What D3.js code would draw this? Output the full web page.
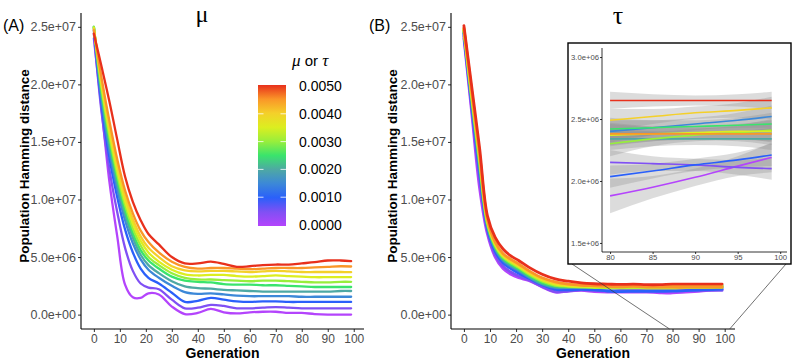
<!DOCTYPE html>
<html><head><meta charset="utf-8">
<script src="https://cdn.jsdelivr.net/npm/d3@7"></script>
<style>body{margin:0;background:#fff} svg{display:block}</style>
</head><body><svg id="c" width="792" height="362"></svg>
<script>
// ---------------- data (values in millions) ----------------
const generations = [0,3,6,9,12,15,18,21,25,30,35,40,45,50,55,60,65,70,75,80,85,90,95,99];
const rateValues = [0,0.0005,0.001,0.0015,0.002,0.0025,0.003,0.0035,0.004,0.0045,0.005];

const muSeries = [
  [24.0,17.8,11.5,6.8,2.6,1.5,1.45,1.85,1.75,0.7,0.05,0.15,0.5,0.2,0.1,0.2,0.25,0.25,0.15,0.15,0.05,0.0,0.0,0.0],
  [24.4,17.5,12.6,8.9,5.8,3.8,2.7,2.35,2.2,1.3,0.55,0.6,0.85,0.75,0.55,0.55,0.6,0.65,0.6,0.55,0.55,0.55,0.55,0.55],
  [24.7,18.2,13.6,10.2,7.4,5.4,4.0,3.2,2.7,1.9,1.1,1.2,1.45,1.3,1.15,1.1,1.15,1.15,1.1,1.1,1.1,1.1,1.1,1.1],
  [24.9,18.6,14.2,10.9,8.2,6.2,4.8,3.9,3.2,2.5,1.95,1.8,1.85,1.75,1.65,1.6,1.6,1.6,1.6,1.55,1.55,1.55,1.55,1.55],
  [25.0,19.0,14.7,11.4,8.7,6.7,5.2,4.3,3.6,2.9,2.45,2.3,2.25,2.15,2.1,2.05,2.0,2.0,2.0,2.0,2.0,2.0,2.05,2.05],
  [25.0,19.3,15.1,11.8,9.1,7.1,5.6,4.7,4.0,3.3,2.95,2.85,2.8,2.65,2.6,2.6,2.55,2.55,2.5,2.45,2.4,2.4,2.4,2.4],
  [25.0,19.6,15.5,12.2,9.5,7.5,6.0,5.0,4.3,3.6,3.2,3.05,3.05,3.0,2.95,2.9,2.95,2.95,2.9,2.85,2.8,2.8,2.85,2.85],
  [24.9,19.9,15.9,12.6,9.9,7.9,6.4,5.4,4.6,3.9,3.5,3.4,3.45,3.45,3.35,3.3,3.35,3.4,3.35,3.3,3.25,3.25,3.25,3.26],
  [24.8,20.2,16.3,13.0,10.3,8.3,6.8,5.8,5.0,4.2,3.85,3.75,3.8,3.8,3.75,3.7,3.75,3.8,3.75,3.7,3.7,3.7,3.7,3.69],
  [24.7,20.5,16.8,13.5,10.8,8.8,7.3,6.3,5.4,4.6,4.15,4.0,4.05,4.05,4.0,3.95,4.0,4.05,4.05,4.05,4.1,4.15,4.2,4.18],
  [24.4,21.5,18.5,15.2,12.0,9.8,8.2,7.0,6.1,5.0,4.45,4.45,4.6,4.4,4.15,4.2,4.3,4.35,4.35,4.45,4.55,4.7,4.7,4.65]
];

const tauSeries = [
  [24.0,17.5,11.0,7.0,5.0,4.0,3.5,3.2,2.95,2.4,1.95,2.05,2.1,2.0,1.95,1.95,1.95,1.95,1.9,1.88,1.95,2.03,2.12,2.19],
  [24.2,17.9,11.8,7.3,5.2,4.2,3.7,3.35,3.0,2.45,2.0,2.05,2.15,2.1,2.05,2.1,2.15,2.15,2.15,2.15,2.14,2.13,2.11,2.10],
  [24.4,18.2,12.4,7.5,5.5,4.5,4.0,3.6,3.15,2.6,2.2,2.15,2.2,2.15,2.05,2.0,2.02,2.02,2.02,2.035,2.08,2.13,2.17,2.21],
  [24.5,18.4,12.7,7.7,5.7,4.7,4.2,3.8,3.25,2.65,2.35,2.35,2.4,2.38,2.36,2.36,2.38,2.38,2.38,2.40,2.43,2.46,2.49,2.52],
  [24.6,18.6,13.0,7.8,5.8,4.8,4.3,3.9,3.3,2.7,2.4,2.35,2.38,2.35,2.33,2.32,2.34,2.34,2.34,2.34,2.34,2.34,2.34,2.34],
  [24.7,18.8,13.2,7.9,5.9,4.9,4.4,4.0,3.4,2.8,2.5,2.45,2.45,2.42,2.4,2.4,2.42,2.42,2.42,2.42,2.43,2.44,2.45,2.46],
  [24.7,18.9,13.4,8.0,6.0,5.0,4.5,4.1,3.5,2.9,2.55,2.45,2.4,2.35,2.35,2.32,2.33,2.3,2.3,2.30,2.34,2.37,2.39,2.41],
  [24.8,19.0,13.6,8.1,6.1,5.1,4.6,4.2,3.6,3.0,2.65,2.5,2.45,2.42,2.4,2.38,2.4,2.38,2.38,2.37,2.38,2.39,2.40,2.40],
  [24.8,19.2,13.8,8.2,6.2,5.2,4.7,4.3,3.7,3.1,2.75,2.6,2.55,2.5,2.5,2.48,2.5,2.48,2.48,2.49,2.52,2.55,2.57,2.59],
  [24.9,19.4,14.0,8.3,6.3,5.3,4.8,4.4,3.8,3.2,2.85,2.65,2.55,2.5,2.45,2.42,2.45,2.4,2.4,2.38,2.38,2.38,2.38,2.38],
  [25.1,19.8,14.5,8.6,6.7,5.7,5.1,4.7,4.1,3.5,3.1,2.9,2.75,2.68,2.65,2.62,2.65,2.6,2.6,2.65,2.65,2.65,2.65,2.65]
];

const insetGenerations = [80,85,90,95,99];
const insetTau = [
  [1.88,1.95,2.03,2.12,2.19],
  [2.15,2.14,2.13,2.11,2.10],
  [2.035,2.08,2.13,2.17,2.21],
  [2.40,2.43,2.46,2.49,2.52],
  [2.34,2.34,2.34,2.34,2.34],
  [2.42,2.43,2.44,2.45,2.46],
  [2.30,2.34,2.37,2.39,2.41],
  [2.37,2.38,2.39,2.40,2.40],
  [2.49,2.52,2.55,2.57,2.59],
  [2.38,2.38,2.38,2.38,2.38],
  [2.65,2.65,2.65,2.65,2.65]
];
const insetSE = [
  [0.14,0.09,0.07,0.08,0.12],
  [0.10,0.06,0.05,0.06,0.09],
  [0.09,0.06,0.05,0.06,0.09],
  [0.09,0.06,0.05,0.06,0.09],
  [0.09,0.06,0.05,0.06,0.09],
  [0.09,0.06,0.05,0.06,0.09],
  [0.10,0.06,0.05,0.06,0.09],
  [0.09,0.06,0.05,0.06,0.09],
  [0.09,0.06,0.05,0.06,0.09],
  [0.09,0.06,0.05,0.06,0.09],
  [0.07,0.05,0.04,0.05,0.07]
];

const yTicks = [0,5e6,1e7,1.5e7,2e7,2.5e7];
const xTicks = [0,10,20,30,40,50,60,70,80,90,100];
const legendTicks = [0,0.001,0.002,0.003,0.004,0.005];
const insetYTicks = [1.5e6,2e6,2.5e6,3e6];
const insetXTicks = [80,85,90,95,100];
const colourStops = ["#b444fc","#8050f4","#2a60fa","#3c88d8","#4ea8a4","#3ae46c","#98ee3c","#dcee20","#f4d02a","#fa9628","#e8301c"];

// ---------------- drawing ----------------
const svg = d3.select("#c");
const SANS = "'Liberation Sans', Arial, sans-serif";
const SERIF = "'Liberation Serif', 'DejaVu Serif', serif";
const color = d3.scaleLinear().domain(rateValues).range(colourStops).interpolate(d3.interpolateRgb);
const sciFmt = d => d.toExponential(1).replace(/e([+-])(\d)$/, "e$10$2");

const y = d3.scaleLinear().domain([-1.25e6, 2.62e7]).range([329, 13]);
const xL = d3.scaleLinear().domain([-4.95, 103.95]).range([81, 364]);
const xR = d3.scaleLinear().domain([-4.95, 103.95]).range([451, 735]);

function drawAxes(x) {
  const g = svg.append("g");
  const ya = g.append("g").attr("transform", `translate(${x.range()[0]},0)`)
    .call(d3.axisLeft(y).tickValues(yTicks).tickSize(3).tickPadding(2).tickFormat(sciFmt));
  const xa = g.append("g").attr("transform", `translate(0,${y.range()[0]})`)
    .call(d3.axisBottom(x).tickValues(xTicks).tickSize(3).tickPadding(2));
  [ya, xa].forEach(a => {
    a.select(".domain").remove();
    a.selectAll(".tick line").attr("stroke", "#333");
    a.selectAll(".tick text").attr("fill", "#4d4d4d").style("font-family", SANS).style("font-size", "12.5px");
  });
  xa.selectAll(".tick text").style("font-size", "12px");
  g.append("line").attr("x1", x.range()[0]).attr("x2", x.range()[0]).attr("y1", y.range()[1]).attr("y2", y.range()[0]).attr("stroke", "#000").attr("stroke-width", 1.1);
  g.append("line").attr("x1", x.range()[0]).attr("x2", x.range()[1]).attr("y1", y.range()[0]).attr("y2", y.range()[0]).attr("stroke", "#000").attr("stroke-width", 1.1);
}

function drawSeries(x, series, width) {
  const line = d3.line().x((d, i) => x(generations[i])).y(d => y(d * 1e6)).curve(d3.curveCatmullRom.alpha(0.5));
  svg.append("g").selectAll("path").data(series).join("path")
    .attr("d", line).attr("fill", "none")
    .attr("stroke", (d, i) => color(rateValues[i]))
    .attr("stroke-width", width).attr("stroke-linejoin", "round").attr("stroke-linecap", "round");
}

drawSeries(xL, muSeries, 2.3);
drawAxes(xL);
drawSeries(xR, tauSeries, 2.8);
drawAxes(xR);

// titles & labels
const txt = (x, yy, s, opts = {}) => svg.append("text").attr("x", x).attr("y", yy)
  .attr("text-anchor", opts.anchor || "middle").style("font-family", opts.font || SANS)
  .style("font-size", (opts.size || 14) + "px").style("font-weight", opts.weight || "normal")
  .attr("fill", opts.fill || "#000").text(s);

txt(202, 22, "μ", {font: SERIF, size: 24});
txt(618, 23.5, "τ", {font: SERIF, size: 26});
txt(3, 31, "(A)", {anchor: "start", size: 16});
txt(369, 31, "(B)", {anchor: "start", size: 16});
txt(222.5, 358, "Generation", {weight: "bold", size: 14});
txt(593, 358, "Generation", {weight: "bold", size: 14});
[[29, 166], [397, 166]].forEach(([tx, ty]) => {
  svg.append("text").attr("transform", `translate(${tx},${ty}) rotate(-90)`)
    .attr("text-anchor", "middle").style("font-family", SANS).style("font-size", "13.5px")
    .style("font-weight", "bold").text("Population Hamming distance");
});

// colour legend
const leg = d3.scaleLinear().domain([0, 0.005]).range([225, 86]);
const defs = svg.append("defs");
const grad = defs.append("linearGradient").attr("id", "cbar").attr("x1", 0).attr("x2", 0).attr("y1", 1).attr("y2", 0);
d3.range(0, 1.0001, 0.05).forEach(t => grad.append("stop").attr("offset", t).attr("stop-color", color(t * 0.005)));
svg.append("rect").attr("x", 258).attr("y", leg(0.005) - 1).attr("width", 28).attr("height", leg(0) - leg(0.005) + 2).attr("fill", "url(#cbar)");
legendTicks.slice(1, -1).forEach(v => {
  [[258, 263.5], [280.5, 286]].forEach(([a, b]) => svg.append("line").attr("x1", a).attr("x2", b)
    .attr("y1", leg(v)).attr("y2", leg(v)).attr("stroke", "#fff").attr("stroke-opacity", 0.8).attr("stroke-width", 1));
});
legendTicks.forEach(v => txt(299, leg(v) + 5, v.toFixed(4), {anchor: "start", size: 14}));
const lt = svg.append("text").attr("x", 292).attr("y", 66).style("font-family", SANS).style("font-size", "15px");
lt.append("tspan").style("font-family", SERIF).style("font-style", "italic").style("font-size", "17px").text("μ");
lt.append("tspan").text(" or ");
lt.append("tspan").style("font-family", SERIF).style("font-style", "italic").style("font-size", "17px").text("τ");

// zoom connector lines
const box = {x0: 568, y0: 43, x1: 791, y1: 264};
svg.append("line").attr("x1", box.x0 + 4).attr("y1", box.y1).attr("x2", xR(80) - 3).attr("y2", 329).attr("stroke", "#333").attr("stroke-width", 0.7);
svg.append("line").attr("x1", box.x1 - 5).attr("y1", box.y1).attr("x2", xR(100) + 5).attr("y2", 329).attr("stroke", "#333").attr("stroke-width", 0.7);

// inset
svg.append("rect").attr("x", box.x0).attr("y", box.y0).attr("width", box.x1 - box.x0).attr("height", box.y1 - box.y0)
  .attr("fill", "#fff").attr("stroke", "#000").attr("stroke-width", 1.4);
const ix = d3.scaleLinear().domain([79.05, 100.8]).range([602, 787]);
const iy = d3.scaleLinear().domain([1.427e6, 3.073e6]).range([252, 48]);
const ig = svg.append("g");
const area = d3.area().x((d, i) => ix(insetGenerations[i])).y0((d, i) => iy((d.v - d.s) * 1e6)).y1(d => iy((d.v + d.s) * 1e6)).curve(d3.curveMonotoneX);
insetTau.forEach((s, k) => {
  ig.append("path").datum(s.map((v, i) => ({v, s: insetSE[k][i]}))).attr("d", area).attr("fill", "#8c8c8c").attr("fill-opacity", 0.3);
});
const iline = d3.line().x((d, i) => ix(insetGenerations[i])).y(d => iy(d * 1e6)).curve(d3.curveMonotoneX);
insetTau.forEach((s, k) => {
  ig.append("path").attr("d", iline(s)).attr("fill", "none").attr("stroke", color(rateValues[k])).attr("stroke-width", 1.6);
});
const iya = ig.append("g").attr("transform", "translate(602,0)").call(d3.axisLeft(iy).tickValues(insetYTicks).tickSize(2).tickPadding(1).tickFormat(sciFmt));
const ixa = ig.append("g").attr("transform", "translate(0,252)").call(d3.axisBottom(ix).tickValues(insetXTicks).tickSize(2).tickPadding(1));
[iya, ixa].forEach(a => {
  a.select(".domain").remove();
  a.selectAll(".tick line").attr("stroke", "#333");
  a.selectAll(".tick text").attr("fill", "#4d4d4d").style("font-family", SANS).style("font-size", "7.7px");
});
ig.append("line").attr("x1", 602).attr("x2", 602).attr("y1", 48).attr("y2", 252).attr("stroke", "#000").attr("stroke-width", 0.8);
ig.append("line").attr("x1", 602).attr("x2", 787).attr("y1", 252).attr("y2", 252).attr("stroke", "#000").attr("stroke-width", 0.8);
</script></body></html>
